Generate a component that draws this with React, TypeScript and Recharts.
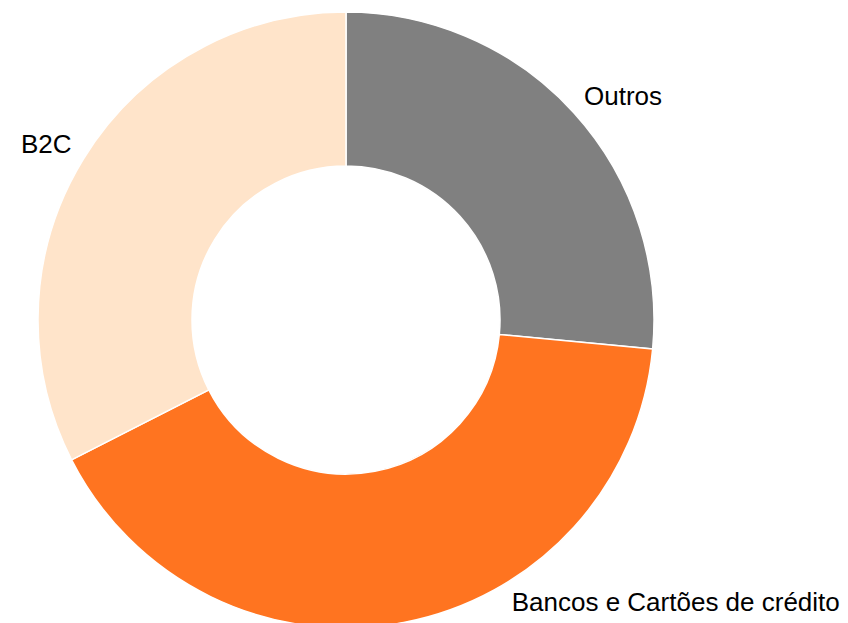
import React from "react";
import { PieChart, Pie, Cell } from "recharts";

const categories = ["Outros", "Bancos e Cartões de crédito", "B2C"];
const shares = [26.5, 41.0, 32.5];
const colors = ["#808080", "#FF7420", "#FFE4CA"];

const data = categories.map((name, i) => ({ name, value: shares[i] }));

const WIDTH = 848;
const HEIGHT = 623;
const FONT_SIZE = 26;

const renderLabel = (props: any) => {
  const { cx, cy, midAngle, outerRadius, name } = props;
  const R = outerRadius * 1.045;
  const rad = (-midAngle * Math.PI) / 180;
  let x = cx + R * Math.cos(rad);
  let y = cy + R * Math.sin(rad) - 8;
  const maxY = HEIGHT - 21;
  if (y > maxY) {
    const R2 = outerRadius * 1.062;
    const dy = maxY - cy;
    const dx = Math.sqrt(Math.max(R2 * R2 - dy * dy, 0));
    x = cx + (x >= cx ? 1 : -1) * dx;
    y = maxY;
  }
  return (
    <text
      x={x}
      y={y + FONT_SIZE * 0.36}
      textAnchor={x > cx ? "start" : "end"}
      fill="#000"
      fontSize={FONT_SIZE}
      fontFamily="'Liberation Sans', Arial, sans-serif"
    >
      {name}
    </text>
  );
};

export default function App() {
  return (
    <div style={{ position: "absolute", left: 0, top: 0, background: "#fff" }}>
      <PieChart width={WIDTH} height={HEIGHT} margin={{ top: 0, right: 0, bottom: 0, left: 0 }}>
        <Pie
          data={data}
          dataKey="value"
          nameKey="name"
          cx={346}
          cy={320}
          outerRadius={308}
          innerRadius={154}
          startAngle={90}
          endAngle={-270}
          stroke="#ffffff"
          strokeWidth={1.5}
          label={renderLabel}
          labelLine={false}
          isAnimationActive={false}
        >
          {data.map((d, i) => (
            <Cell key={d.name} fill={colors[i]} />
          ))}
        </Pie>
      </PieChart>
    </div>
  );
}
